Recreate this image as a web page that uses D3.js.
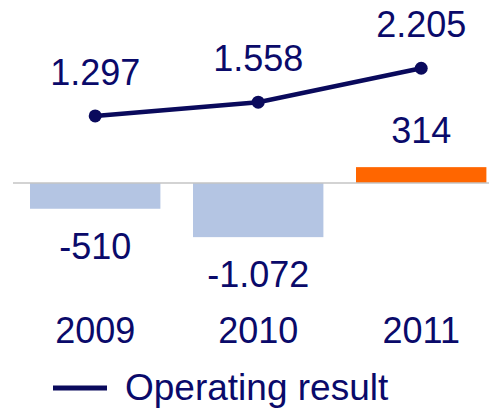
<!DOCTYPE html>
<html>
<head>
<meta charset="utf-8">
<script src="https://cdn.jsdelivr.net/npm/d3@7/dist/d3.min.js"></script>
<style>
html,body{margin:0;padding:0;background:#fff;}
svg{display:block;}
text{font-family:"Liberation Sans",Arial,sans-serif;fill:#0a0a6a;}
</style>
</head>
<body>
<svg id="chart" width="489" height="408"></svg>
<script>
const years = ["2009", "2010", "2011"];
const barValues = [-510, -1072, 314];
const barLabels = ["-510", "-1.072", "314"];
const lineValues = [1297, 1558, 2205];
const lineLabels = ["1.297", "1.558", "2.205"];
const legendLabel = "Operating result";

const svg = d3.select("#chart");
const navy = "#0a0a5c";

const x = d3.scaleBand().domain(years).range([13.7, 502.7]).paddingInner(0.2).paddingOuter(0.1);
const yBar = d3.scaleLinear().domain([-1500, 1500]).range([183 + 75.75, 183 - 75.75]);
const yLine = d3.scaleLinear().domain([0, 2500]).range([184, 184 - 131.25]);

// bars
svg.selectAll("rect.bar").data(years).join("rect")
  .attr("class", "bar")
  .attr("x", d => x(d))
  .attr("width", x.bandwidth())
  .attr("y", (d, i) => Math.min(yBar(barValues[i]), yBar(0)))
  .attr("height", (d, i) => Math.abs(yBar(barValues[i]) - yBar(0)))
  .attr("fill", (d, i) => barValues[i] < 0 ? "#b4c5e3" : "#ff6600");

// baseline
svg.append("line")
  .attr("x1", 13).attr("x2", 489)
  .attr("y1", yBar(0)).attr("y2", yBar(0))
  .attr("stroke", "#c4c4c4").attr("stroke-width", 1.5);

// line
const cx = d => x(d) + x.bandwidth() / 2;
const line = d3.line().x((d, i) => cx(years[i])).y(d => yLine(d));
svg.append("path").datum(lineValues)
  .attr("d", line).attr("fill", "none")
  .attr("stroke", navy).attr("stroke-width", 4.5);
svg.selectAll("circle.pt").data(lineValues).join("circle")
  .attr("class", "pt")
  .attr("cx", (d, i) => cx(years[i]))
  .attr("cy", d => yLine(d))
  .attr("r", 6.5).attr("fill", navy);

// line labels
svg.selectAll("text.ll").data(lineLabels).join("text")
  .attr("class", "ll")
  .attr("x", (d, i) => cx(years[i]))
  .attr("y", (d, i) => yLine(lineValues[i]) - 31)
  .attr("text-anchor", "middle")
  .attr("font-size", 36)
  .text(d => d);

// bar labels
svg.selectAll("text.bl").data(barLabels).join("text")
  .attr("class", "bl")
  .attr("x", (d, i) => cx(years[i]))
  .attr("y", (d, i) => barValues[i] < 0 ? yBar(barValues[i]) + 50 : yBar(barValues[i]) - 24)
  .attr("text-anchor", "middle")
  .attr("font-size", 36)
  .text(d => d);

// year axis labels
svg.selectAll("text.yr").data(years).join("text")
  .attr("class", "yr")
  .attr("x", d => cx(d))
  .attr("y", 343)
  .attr("text-anchor", "middle")
  .attr("font-size", 36)
  .text(d => d);

// legend
svg.append("line")
  .attr("x1", 53).attr("x2", 107)
  .attr("y1", 388).attr("y2", 388)
  .attr("stroke", navy).attr("stroke-width", 5);
svg.append("text")
  .attr("x", 125).attr("y", 400)
  .attr("font-size", 37)
  .text(legendLabel);
</script>
</body>
</html>
